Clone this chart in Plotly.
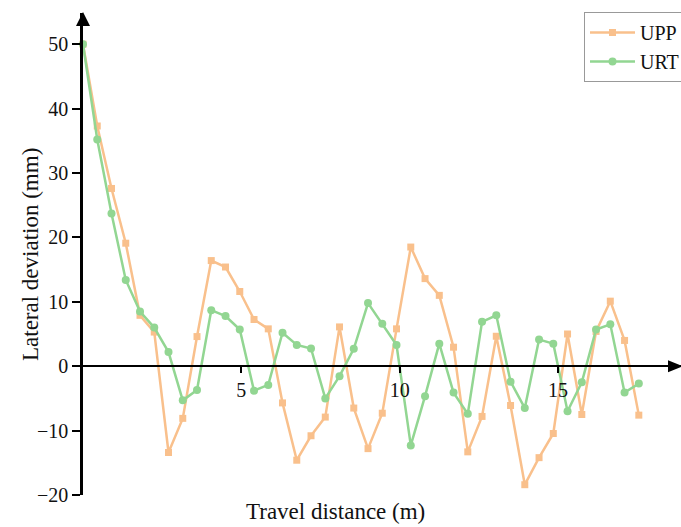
import plotly.graph_objects as go

# ---- data ----
step = 0.45
n_points = 40
travel = [round(i * step, 2) for i in range(n_points)]
upp = [50, 37.3, 27.6, 19.1, 7.9, 5.3, -13.4, -8.1, 4.6, 16.4,
       15.4, 11.6, 7.25, 5.8, -5.7, -14.6, -10.8, -7.9, 6.1, -6.5,
       -12.8, -7.3, 5.8, 18.5, 13.6, 11.0, 2.95, -13.3, -7.8, 4.65,
       -6.1, -18.4, -14.2, -10.45, 5.0, -7.5, 5.4, 10.1, 4.0, -7.6]
urt = [50, 35.2, 23.7, 13.4, 8.5, 6.0, 2.2, -5.3, -3.7, 8.7,
       7.8, 5.7, -3.8, -2.9, 5.2, 3.3, 2.75, -5.0, -1.55, 2.7,
       9.8, 6.6, 3.3, -12.3, -4.65, 3.5, -4.1, -7.4, 6.9, 7.9,
       -2.4, -6.5, 4.15, 3.5, -7.0, -2.5, 5.7, 6.5, -4.1, -2.7]
series_names = ["UPP", "URT"]
x_ticks = [5, 10, 15]
y_ticks = [-20, -10, 0, 10, 20, 30, 40, 50]
x_title = "Travel distance (m)"
y_title = "Lateral deviation (mm)"

# ---- layout constants ----
W, H = 681, 527
ML, MR, MT, MB = 83, 0, 13, 32
PW, PH = W - ML - MR, H - MT - MB
x_range = [0, PW / 31.67]
y_range = [-20, -20 + PH / 6.44]
zero_pos = (0 - y_range[0]) / (y_range[1] - y_range[0])

FONT = "Liberation Serif"
ORANGE = "#F9C08C"
GREEN = "#92D692"

fig = go.Figure()
fig.add_trace(go.Scatter(
    x=travel, y=upp, name=series_names[0], mode="lines+markers",
    line=dict(color=ORANGE, width=2.5),
    marker=dict(symbol="square", size=7, color=ORANGE),
    cliponaxis=False))
fig.add_trace(go.Scatter(
    x=travel, y=urt, name=series_names[1], mode="lines+markers",
    line=dict(color=GREEN, width=2.5),
    marker=dict(symbol="circle", size=8, color=GREEN),
    cliponaxis=False))

def px_x(p):
    return (p - ML) / PW

def px_y(p):
    return (H - MB - p) / PH

shapes = [
    # y-axis arrow head
    dict(type="path", xref="paper", yref="paper",
         path=f"M {px_x(ML-7)} {px_y(26)} L {px_x(ML+7)} {px_y(26)} L {px_x(ML)} {px_y(12)} Z",
         fillcolor="black", line=dict(color="black", width=0)),
]
zero_px = H - MB - zero_pos * PH
shapes.append(dict(type="path", xref="paper", yref="paper",
    path=f"M {px_x(668)} {px_y(zero_px-6)} L {px_x(668)} {px_y(zero_px+6)} L {px_x(683)} {px_y(zero_px)} Z",
    fillcolor="black", line=dict(color="black", width=0)))

fig.update_layout(
    width=W, height=H,
    margin=dict(l=ML, r=MR, t=MT, b=MB, autoexpand=False),
    paper_bgcolor="white", plot_bgcolor="white",
    font=dict(family=FONT, size=20, color="#111"),
    showlegend=True,
    legend=dict(x=px_x(584), y=px_y(12), xanchor="left", yanchor="top",
                bgcolor="white", bordercolor="#999", borderwidth=1,
                font=dict(family=FONT, size=20, color="#111"),
                itemwidth=45, tracegroupgap=0),
    shapes=shapes,
    annotations=[
        dict(text=x_title, xref="paper", yref="paper",
             x=px_x(335), y=px_y(511), showarrow=False,
             font=dict(family=FONT, size=23, color="#111"),
             xanchor="center", yanchor="middle"),
        dict(text=y_title, xref="paper", yref="paper",
             x=px_x(30), y=px_y(255), showarrow=False, textangle=-90,
             font=dict(family=FONT, size=23, color="#111"),
             xanchor="center", yanchor="middle"),
    ],
)
fig.update_xaxes(
    range=x_range, anchor="free", position=zero_pos,
    tickvals=x_ticks, ticks="outside", ticklen=6, tickwidth=1.5,
    tickcolor="black", showline=True, linecolor="black", linewidth=1.5,
    showgrid=False, zeroline=False,
    tickfont=dict(family=FONT, size=20, color="#111"))
fig.update_yaxes(
    range=y_range, tickvals=y_ticks, ticks="outside", ticklen=8, tickwidth=2,
    tickcolor="black", showline=True, linecolor="black", linewidth=2.5,
    showgrid=False, zeroline=False,
    tickfont=dict(family=FONT, size=20, color="#111"))

fig.write_html("out.html")
